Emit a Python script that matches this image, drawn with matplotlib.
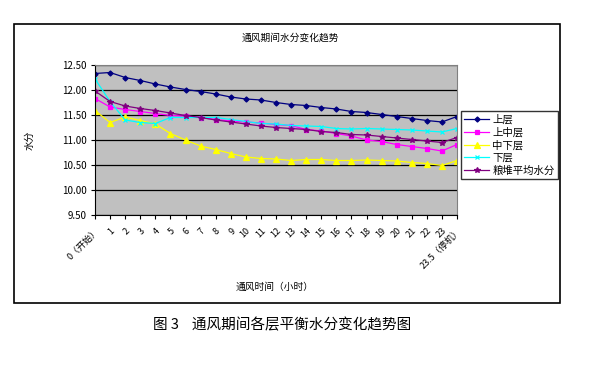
import matplotlib
matplotlib.use('Agg')
import matplotlib.pyplot as plt
from matplotlib.patches import Rectangle

plt.rcParams['font.family'] = ['Noto Sans CJK SC', 'DejaVu Sans']

# 通风时间（小时）
hours = ['0（开始）'] + [str(i) for i in range(1, 24)] + ['23.5（停机）']

upper = [12.33, 12.35, 12.25, 12.19, 12.12, 12.06, 12.01, 11.97, 11.92, 11.86,
         11.82, 11.80, 11.75, 11.71, 11.69, 11.65, 11.62, 11.57, 11.55, 11.51,
         11.47, 11.43, 11.39, 11.36, 11.47]
upper_mid = [11.83, 11.66, 11.61, 11.57, 11.53, 11.49, 11.48, 11.45, 11.41, 11.38,
             11.36, 11.34, 11.31, 11.29, 11.21, 11.18, 11.13, 11.08, 11.00, 10.97,
             10.91, 10.87, 10.83, 10.78, 10.91]
lower_mid = [11.59, 11.35, 11.46, 11.39, 11.32, 11.13, 11.00, 10.88, 10.81, 10.73,
             10.66, 10.63, 10.62, 10.59, 10.61, 10.61, 10.59, 10.59, 10.60, 10.59,
             10.58, 10.55, 10.53, 10.49, 10.59]
lower = [12.22, 11.77, 11.40, 11.35, 11.33, 11.45, 11.45, 11.45, 11.45, 11.41,
         11.37, 11.33, 11.32, 11.29, 11.28, 11.27, 11.23, 11.22, 11.23, 11.22,
         11.21, 11.20, 11.18, 11.16, 11.23]
average = [11.98, 11.77, 11.68, 11.63, 11.59, 11.54, 11.49, 11.45, 11.40, 11.36,
           11.32, 11.28, 11.25, 11.23, 11.21, 11.17, 11.15, 11.11, 11.10, 11.07,
           11.04, 11.01, 10.98, 10.95, 11.05]

series = [
    ('上层', upper, '#000080', 'D', 2.6),
    ('上中层', upper_mid, '#FF00FF', 's', 3.5),
    ('中下层', lower_mid, '#FFFF00', '^', 4),
    ('下层', lower, '#00FFFF', 'x', 3.5),
    ('粮堆平均水分', average, '#800080', '*', 4),
]

fig = plt.figure(figsize=(6.02, 3.67), dpi=100)

# 图表区外框
fig.patches.append(Rectangle((14 / 602, 1 - 303 / 367), 546 / 602, 279 / 367,
                             transform=fig.transFigure, fill=False,
                             edgecolor='black', linewidth=1.2))

ax = fig.add_axes([95 / 602, 1 - 215 / 367, 362 / 602, 150 / 367])
ax.set_facecolor('#C0C0C0')

x = list(range(len(hours)))
for name, vals, color, marker, ms in series:
    ax.plot(x, vals, color=color, marker=marker, markersize=ms, linewidth=0.9,
            markeredgewidth=0.9, label=name)

ax.set_xlim(0, len(hours) - 1)
ax.set_ylim(9.5, 12.5)
ax.set_yticks([9.5 + 0.5 * i for i in range(7)])
ax.set_yticklabels(['%.2f' % (9.5 + 0.5 * i) for i in range(7)], fontsize=7)
ax.yaxis.grid(True, color='black', linewidth=0.9)
ax.set_axisbelow(True)
ax.set_xticks(x)
ax.set_xticklabels(hours, rotation=45, ha='right', rotation_mode='anchor', fontsize=6.5)
ax.tick_params(axis='x', length=3, pad=5)
ax.tick_params(axis='y', length=3, pad=3)

for side in ['top', 'right']:
    ax.spines[side].set_color('#808080')
for side in ['left', 'bottom']:
    ax.spines[side].set_color('black')

fig.text(290 / 602, 1 - 38 / 367, '通风期间水分变化趋势', ha='center', va='center', fontsize=7)
fig.text(30 / 602, 1 - 140 / 367, '水分', ha='center', va='center', rotation=90, fontsize=7)
fig.text(275 / 602, 1 - 287 / 367, '通风时间（小时）', ha='center', va='center', fontsize=7)
fig.text(282 / 602, 1 - 325 / 367, '图 3    通风期间各层平衡水分变化趋势图', ha='center',
         va='center', fontsize=10.5)

leg = fig.legend(loc='upper left', bbox_to_anchor=(461 / 602, 1 - 111 / 367),
                 fontsize=7.5, frameon=True, fancybox=False, borderpad=0.3,
                 labelspacing=0.25, handlelength=2.4, handletextpad=0.3,
                 borderaxespad=0)
leg.get_frame().set_edgecolor('black')
leg.get_frame().set_linewidth(1)

fig.savefig('out.png', dpi=100, facecolor='w')
